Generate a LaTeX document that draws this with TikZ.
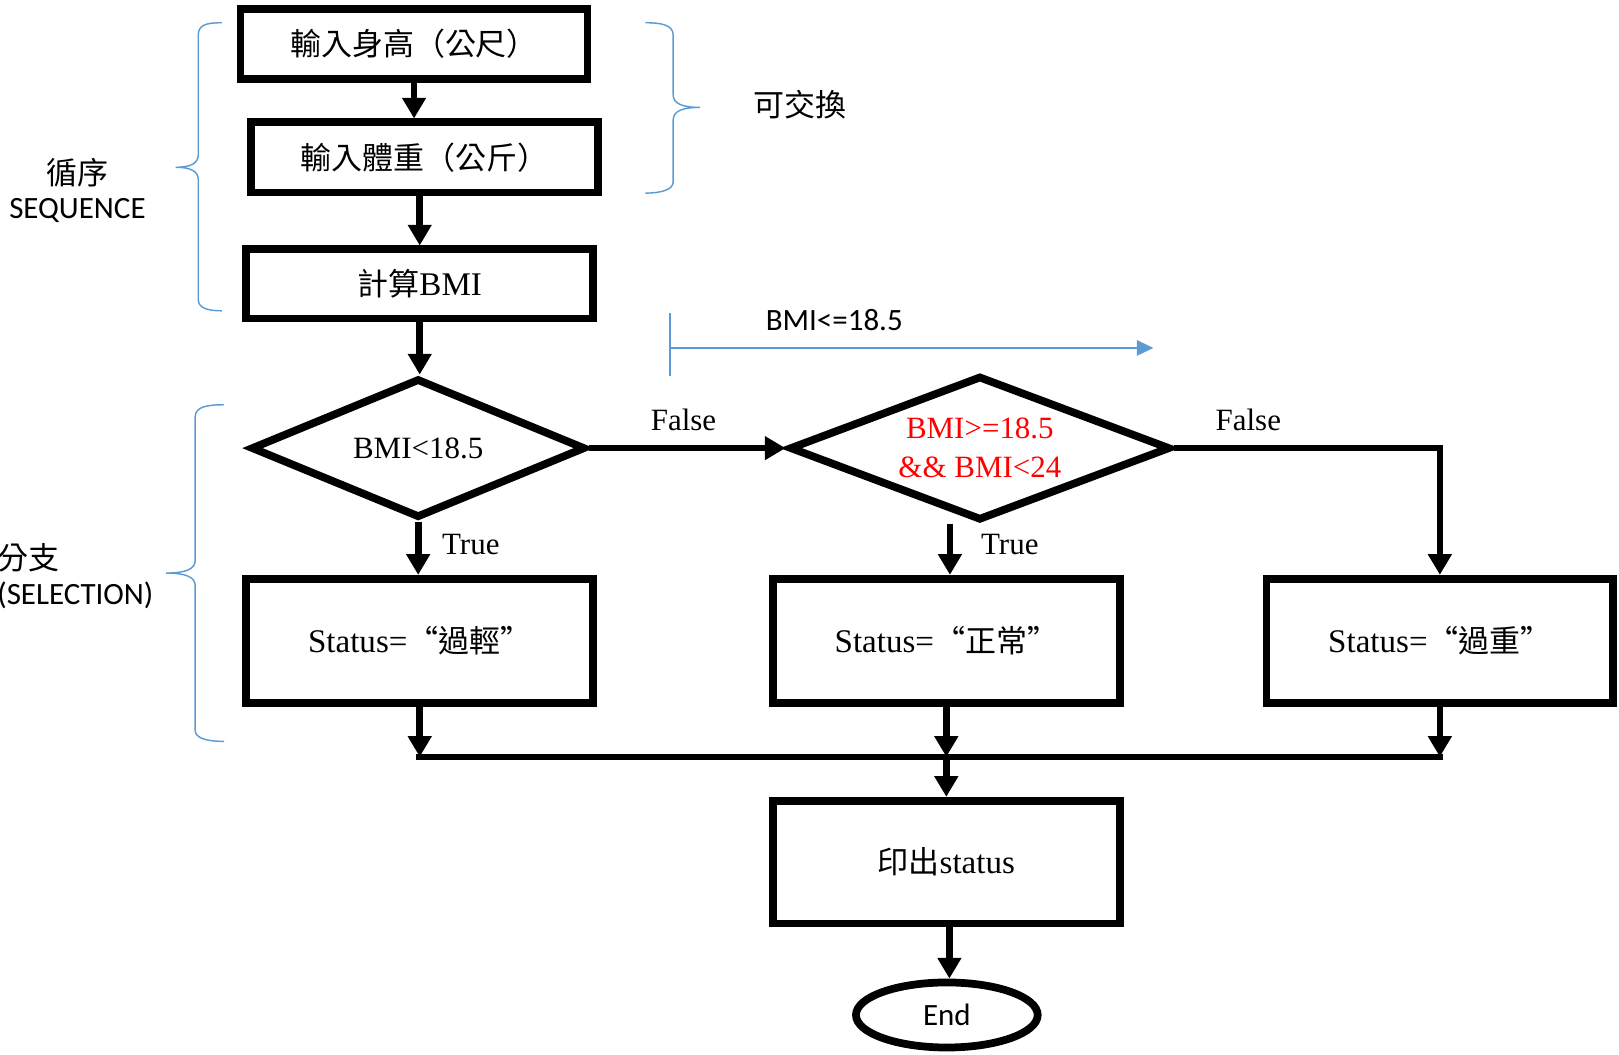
\documentclass[tikz,border=0pt]{standalone}
\usepackage{fontspec}
\setmainfont{Liberation Serif}
\newfontfamily\cjk{Noto Sans CJK TC}
\newfontfamily\calfont{Carlito}
\usetikzlibrary{arrows.meta,shapes.geometric}
\definecolor{myblue}{HTML}{5B9BD5}
\begin{document}
\begin{tikzpicture}[x=1pt,y=-1pt,
  box/.style={draw, line width=7.5pt, minimum width=336pt, inner sep=0pt, font=\fontsize{32}{38}\selectfont},
  dia/.style={draw, diamond, line width=7.5pt, inner sep=0pt, font=\fontsize{30}{38}\selectfont},
  ar/.style={line width=6.5pt, -{Triangle[length=20pt,width=22pt]}},
  ln/.style={line width=6.5pt},
  lab/.style={font=\fontsize{30}{34}\selectfont},
  note/.style={font=\calfont\fontsize{30}{36}\selectfont},
  cnote/.style={font=\cjk\fontsize{30}{36}\selectfont},
  bl/.style={draw=myblue, line width=1.4pt},
]
\useasboundingbox (0,0) rectangle (1568,1021);

% boxes
\node[box, minimum height=68pt, font=\cjk\fontsize{30}{36}\selectfont] (b1) at (401,42.5) {輸入身高（公尺）};
\node[box, minimum height=68pt, font=\cjk\fontsize{30}{36}\selectfont] (b2) at (411,152.5) {輸入體重（公斤）};
\node[box, minimum height=67pt] (b3) at (406.5,275) {{\cjk\fontsize{30}{36}\selectfont 計算}BMI};
\node[dia, aspect=2.4, minimum width=324pt, minimum height=135pt] (d1) at (405,434) {BMI<18.5};
\node[dia, aspect=2.63, minimum width=369pt, minimum height=140pt, text=red, align=center] (d2) at (949,434) {BMI>=18.5\\\&\& BMI<24};
\node[box, minimum height=120pt] (b4) at (406.5,620.5) {Status={\cjk\fontsize{30}{36}\selectfont “過輕”}};
\node[box, minimum height=120pt] (b5) at (916.5,620.5) {Status={\cjk\fontsize{30}{36}\selectfont “正常”}};
\node[box, minimum height=120pt] (b6) at (1394.5,620.5) {Status={\cjk\fontsize{30}{36}\selectfont “過重”}};
\node[box, minimum height=119pt] (b7) at (916.5,835) {{\cjk\fontsize{30}{36}\selectfont 印出}status};
\node[draw, ellipse, line width=7.5pt, minimum width=176pt, minimum height=63pt, inner sep=0pt, note] (e) at (917,983) {End};

% connectors
\draw[ar] (b1.south) -- (b1.south |- b2.north);
\draw[ar] (b3.north |- b2.south) -- (b3.north);
\draw[ar] (b3.south) -- (b3.south |- d1.north);
\draw[ar] (d1.south) -- (d1.south |- b4.north);
\node[lab] (lt1) at (456,527) {True};
\draw[ar] (d1.east) -- (d2.west);
\node[lab] (lf1) at (662,407) {False};
\coordinate (t2) at (920,507);
\draw[ar] (t2) -- (t2 |- b5.north);
\node[lab] (lt2) at (978,527) {True};
\draw[ar] (d2.east) -| (b6.north);
\node[lab] (lf2) at (1209,407) {False};

\coordinate (mrow) at (0,733);
\draw[ar] (b4.south) -- (b4.south |- mrow);
\draw[ar] (b5.south) -- (b5.south |- mrow);
\draw[ar] (b6.south) -- (b6.south |- mrow);
\draw[ln, line cap=rect] (b4.south |- mrow) -- (b6.south |- mrow);
\draw[ar] (b5.south |- mrow) -- (b7.north);
\draw[ar] ([xshift=3pt]b7.south) -- ([xshift=3pt]b7.south |- e.north);

% blue annotations
\coordinate (tk1) at (649,303);
\coordinate (tk2) at (649,364);
\draw[bl] (tk1) -- (tk2);
\coordinate (ha) at (649,337);
\coordinate (hb) at (1117,337);
\draw[bl, -{Triangle[length=16pt,width=15pt]}, fill=myblue] (ha) -- (hb);
\node[note] (lbmi) at (808,310) {BMI<=18.5};

% braces
\draw[bl] (215,22) .. controls (200,22) and (192,24) .. (192,34) -- (192,150)
  .. controls (192,158) and (185,162) .. (170,162)
  .. controls (185,162) and (192,166) .. (192,174) -- (192,290)
  .. controls (192,298) and (200,301) .. (215,301);
\draw[bl] (625,22) .. controls (640,22) and (652,24) .. (652,34) -- (652,92)
  .. controls (652,100) and (660,104) .. (678,104)
  .. controls (660,104) and (652,108) .. (652,116) -- (652,176)
  .. controls (652,184) and (640,187) .. (625,187);
\draw[bl] (217,392) .. controls (200,392) and (189,394) .. (189,404) -- (189,543)
  .. controls (189,551) and (180,555) .. (161,555)
  .. controls (180,555) and (189,559) .. (189,567) -- (189,707)
  .. controls (189,715) and (200,718) .. (217,718);

\node[cnote] (lseq1) at (75,167) {循序};
\node[note] (lseq2) at (75,204) {SEQUENCE};
\node[cnote] (lswap) at (775,101) {可交換};
\node[cnote] (lsel1) at (28,540) {分支};
\node[note] (lsel2) at (73,577) {(SELECTION)};
\end{tikzpicture}
\end{document}
